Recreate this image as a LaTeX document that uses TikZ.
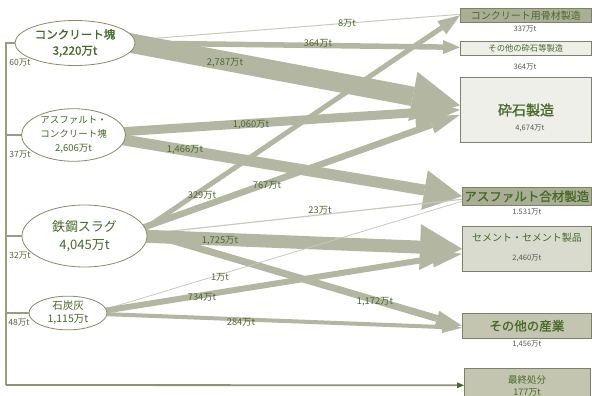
\documentclass[tikz,border=0pt]{standalone}
\usepackage{fontspec}
\setmainfont{Noto Sans CJK JP}
\newfontfamily\jpb{Noto Sans CJK JP}[FakeBold=1.2]
\usetikzlibrary{arrows.meta,shapes.geometric,backgrounds}
\definecolor{flow}{HTML}{B3B6A0}
\definecolor{thinflow}{HTML}{C8C9BC}
\definecolor{olive}{HTML}{8A8A6A}
\definecolor{bracket}{HTML}{9A9C82}
\definecolor{finalc}{HTML}{8E9173}
\definecolor{dgreen}{HTML}{46692A}
\definecolor{lbl}{HTML}{4A672C}
\definecolor{boxdark}{HTML}{AAAE94}
\definecolor{boxlight}{HTML}{EFEFEA}
\definecolor{boxmid}{HTML}{C3C5B0}
\definecolor{boxpale}{HTML}{DADBCF}
\definecolor{boxedge}{HTML}{7E816A}
\definecolor{gtext}{HTML}{555555}
\newcommand\myfs[2]{\fontsize{#1}{#2}\selectfont}
\begin{document}
\begin{tikzpicture}[x=1pt,y=-1pt,
  src/.style={ellipse,draw=olive,line width=0.8pt,fill=white,inner sep=0pt,align=center,text=dgreen},
  dst/.style={rectangle,draw=boxedge,line width=0.6pt,anchor=north west,inner sep=0pt,align=center,text=dgreen},
  flw/.style n args={3}{draw=flow,line width=#1,-{Triangle[width=#2,length=#3,line width=0pt]}},
  thinflw/.style={draw=thinflow,line width=#1},
  lab/.style={font=\myfs{9.3}{10},text=lbl,inner sep=0pt},
  num/.style={font=\myfs{7.5}{8},text=gtext,inner sep=0pt},
  brk/.style={draw=bracket,line width=1.2pt},
  finalline/.style={draw=finalc,line width=1.8pt,-{Triangle[width=6pt,length=7pt,color=dgreen,line width=0pt]}},
]
\useasboundingbox (0,0) rectangle (592,396);
% destination boxes
\node[dst,fill=boxdark,minimum width=131pt,minimum height=14pt,font=\myfs{10}{11}] (A) at (460,8) {コンクリート用骨材製造};
\node[dst,fill=boxlight,minimum width=131pt,minimum height=14pt,font=\myfs{8.3}{9}] (B) at (460,41) {その他の砕石等製造};
\node[dst,fill=boxlight,minimum width=131pt,minimum height=65pt] (C) at (460,77) {};
\node[dst,fill=boxdark,minimum width=129pt,minimum height=18pt,font=\jpb\myfs{12.5}{13}] (D) at (462,187) {アスファルト合材製造};
\node[dst,fill=boxpale,minimum width=129pt,minimum height=45pt] (E) at (462,226) {};
\node[dst,fill=boxmid,minimum width=129pt,minimum height=25pt,font=\jpb\myfs{12.5}{13}] (F) at (462,313) {その他の産業};
\node[dst,fill=boxmid,minimum width=126pt,minimum height=32pt] (G) at (464,368) {};
% texts inside boxes
\node[text=dgreen,font=\jpb\myfs{14}{15},inner sep=0pt] (Ct) at (526,110) {砕石製造};
\node[num] (Cn) at (530,128) {4,674万t};
\node[text=dgreen,font=\myfs{10}{11},inner sep=0pt] (Et) at (527,238) {セメント・セメント製品};
\node[num] (En) at (527,258) {2,460万t};
\node[text=dgreen,font=\myfs{9.5}{10},inner sep=0pt] (Gt) at (527,380) {最終処分};
\node[text=dgreen,font=\myfs{9}{10},inner sep=0pt] (Gn) at (527,392) {177万t};
% amounts under boxes
\node[num] (An) at (525,29) {337万t};
\node[num] (Bn) at (525,67) {364万t};
\node[num] (Dn) at (527,212) {1.531万t};
\node[num] (Fn) at (527,344) {1,456万t};
% source ellipses
\node[src,minimum width=120pt,minimum height=45pt,font=\jpb\myfs{11.5}{16}] (e1) at (75,43) {コンクリート塊\\3,220万t};
\node[src,minimum width=104pt,minimum height=48pt,font=\myfs{9.5}{14}] (e2) at (73.5,135) {アスファルト・\\コンクリート塊\\2,606万t};
\node[src,minimum width=125pt,minimum height=62pt,font=\myfs{13}{18}] (e3) at (84.5,236) {鉄鋼スラグ\\4,045万t};
\node[src,minimum width=78pt,minimum height=30pt,font=\myfs{10.5}{13}] (e4) at (68,313) {石炭灰\\1,115万t};
% flows
\begin{scope}[on background layer]
\draw[thinflw=1pt] ([shift={(58,-3)}]e1.center) -- ([shift={(0,-1)}]A.west);
\draw[flw={5.5pt}{14pt}{17pt}] ([shift={(55,0)}]e1.center) -- ([shift={(0,-1)}]B.west);
\draw[flw={19.5pt}{50pt}{48pt}] ([shift={(50,-1)}]e1.center) -- ([shift={(0,-4.5)}]C.west);
\draw[flw={9pt}{32pt}{45pt}] ([shift={(44.5,-3)}]e2.center) -- (C.west);
\draw[flw={11pt}{40pt}{38pt}] ([shift={(44.5,4)}]e2.center) -- (D.west);
\draw[flw={5pt}{16pt}{22pt}] ([shift={(55.5,-4)}]e3.center) -- (A.west);
\draw[flw={6.5pt}{18pt}{30pt}] ([shift={(57.5,-8)}]e3.center) -- ([shift={(0,5)}]C.west);
\draw[thinflw=1.2pt] ([shift={(60.5,-2)}]e3.center) -- ([shift={(0,3)}]D.west);
\draw[flw={13pt}{46pt}{42pt}] ([shift={(55.5,0)}]e3.center) -- (E.west);
\draw[flw={7pt}{16pt}{26pt}] ([shift={(55.5,-5)}]e3.center) -- (F.west);
\draw[thinflw=0.8pt] ([shift={(35,-3)}]e4.center) -- ([shift={(0,5)}]D.west);
\draw[flw={6pt}{18pt}{30pt}] ([shift={(35,-2)}]e4.center) -- ([shift={(0,5)}]E.west);
\draw[flw={4pt}{12pt}{20pt}] ([shift={(35,1)}]e4.center) -- ([shift={(0,2)}]F.west);
\end{scope}
% flow labels
\node[lab] (l8) at (347,23) {8万t};
\node[lab] (l364) at (318,43) {364万t};
\node[lab] (l2787) at (225,63) {2,787万t};
\node[lab] (l1060) at (251,125) {1,060万t};
\node[lab] (l1466) at (185,150) {1,466万t};
\node[lab] (l329) at (202,195) {329万t};
\node[lab] (l767) at (267,185) {767万t};
\node[lab] (l23) at (320,210) {23万t};
\node[lab] (l1725) at (220,241) {1,725万t};
\node[lab] (l1) at (220,277) {1万t};
\node[lab] (l734) at (202,297) {734万t};
\node[lab] (l284) at (241,322) {284万t};
\node[lab] (l1172) at (375,302) {1,172万t};
% disposal bracket
\coordinate (bk) at (6,385);
\draw[brk] (e1.west) -- (e1.west -| bk) -- (bk);
\draw[brk] (e2.west) -- (e2.west -| bk);
\draw[brk] (e3.west) -- (e3.west -| bk);
\draw[brk] (e4.west) -- (e4.west -| bk);
\draw[finalline] (bk) -- ([shift={(0,1)}]G.west);
\node[lab,font=\myfs{8.5}{9}] (d60) at (20,63) {60万t};
\node[lab,font=\myfs{8.5}{9}] (d37) at (20,155) {37万t};
\node[lab,font=\myfs{8.5}{9}] (d32) at (20,256) {32万t};
\node[lab,font=\myfs{8.5}{9}] (d48) at (19,323) {48万t};
\end{tikzpicture}
\end{document}
